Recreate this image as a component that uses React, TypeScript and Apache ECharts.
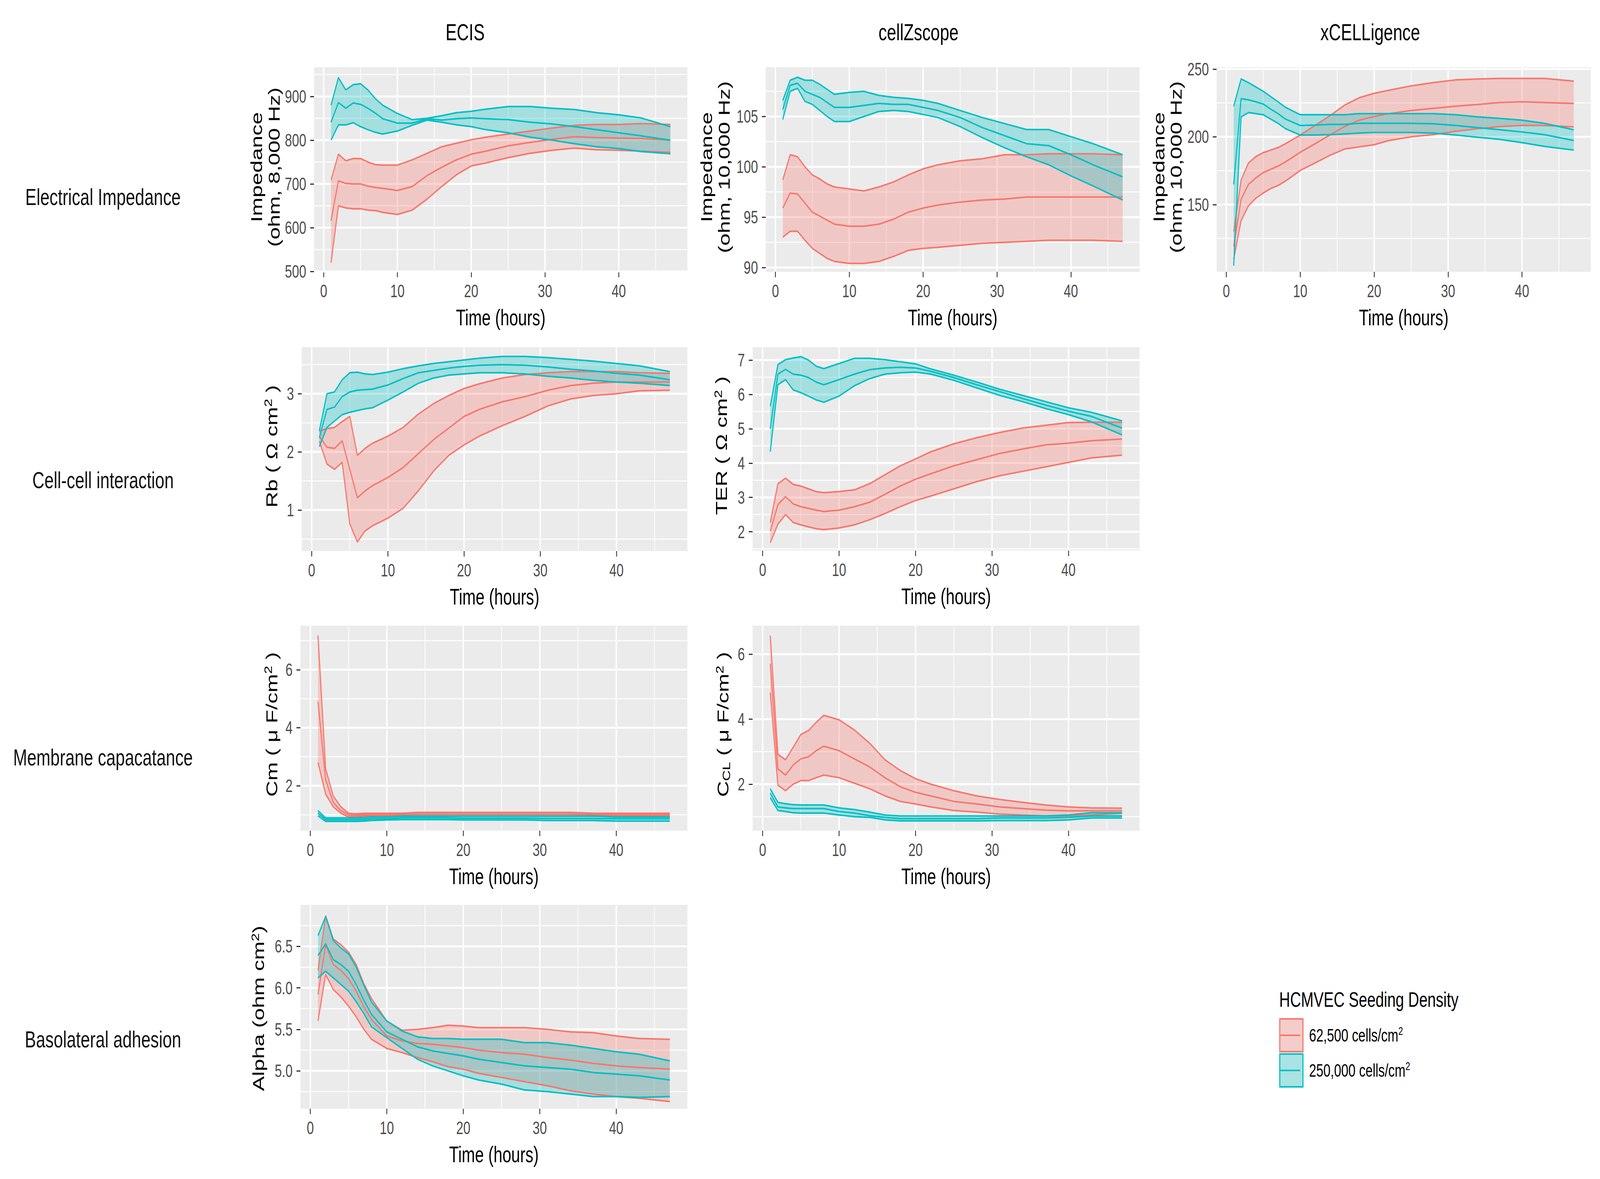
import React, { useEffect, useRef } from "react";
import * as echarts from "echarts";

const FONT = "'Liberation Sans', Arial, Helvetica, sans-serif";
const RED = "#F8766D";
const TEAL = "#00BFC4";
const RED_FILL = "rgba(248,118,109,0.3)";
const TEAL_FILL = "rgba(0,191,196,0.3)";
const REF_W = 5731;
const REF_H = 3019;

// ---------- data ----------
const TIME = [1, 2, 3, 4, 5, 6, 7, 8, 10, 12, 14, 16, 18, 20, 22, 25, 28, 31, 34, 37, 40, 43, 47];
const X_TICKS = [0, 10, 20, 30, 40];
const X_MINOR = [5, 15, 25, 35, 45];
const X_RANGE = [-1.3, 49.3];

const COLUMN_TITLES = ["ECIS", "cellZscope", "xCELLigence"];
const ROW_LABELS = ["Electrical Impedance", "Cell-cell interaction", "Membrane capacatance", "Basolateral adhesion"];
const X_TITLE = "Time (hours)";
const LEGEND_TITLE = "HCMVEC Seeding Density";
const GROUP_LABELS = ["62,500 cells/cm{sup|2}", "250,000 cells/cm{sup|2}"];
const Y_TITLES = [
  "Impedance\n(ohm, 8,000 Hz)",
  "Impedance\n(ohm, 10,000 Hz)",
  "Impedance\n(ohm, 10,000 Hz)",
  "Rb ( \u03A9 cm{sup|2} )",
  "TER ( \u03A9 cm{sup|2} )",
  "Cm ( \u03BC F/cm{sup|2} )",
  "C{sub|CL} ( \u03BC F/cm{sup|2} )",
  "Alpha (ohm cm{sup|2})",
];

// ECIS impedance
const ecisImpRedHi = [709, 768, 753, 758, 758, 750, 744, 743, 743, 755, 770, 785, 793, 801, 807, 814, 821, 828, 834, 836, 836, 838, 836];
const ecisImpRedMid = [616, 707, 701, 700, 700, 695, 692, 690, 685, 694, 719, 738, 755, 768, 775, 787, 795, 802, 808, 806, 805, 804, 800];
const ecisImpRedLo = [520, 650, 645, 643, 643, 640, 639, 635, 630, 640, 665, 694, 721, 741, 748, 760, 770, 777, 782, 778, 777, 775, 772];
const ecisImpTealHi = [880, 943, 915, 927, 929, 915, 895, 880, 861, 847, 850, 856, 863, 866, 871, 877, 877, 873, 870, 863, 858, 851, 831];
const ecisImpTealMid = [841, 886, 873, 885, 882, 873, 862, 849, 839, 839, 849, 846, 849, 851, 849, 847, 841, 837, 831, 824, 817, 810, 800];
const ecisImpTealLo = [800, 835, 835, 840, 831, 824, 818, 814, 821, 834, 846, 841, 835, 831, 824, 817, 807, 800, 792, 785, 781, 774, 769];

// cellZscope impedance
const czImpRedHi = [98.7, 101.2, 101.0, 100.0, 99.2, 98.8, 98.3, 98.0, 97.8, 97.6, 98.0, 98.5, 99.2, 99.8, 100.2, 100.6, 100.8, 101.2, 101.2, 101.3, 101.3, 101.3, 101.2];
const czImpRedMid = [95.9, 97.4, 97.3, 96.4, 95.5, 95.1, 94.7, 94.3, 94.1, 94.1, 94.3, 94.8, 95.5, 95.9, 96.2, 96.5, 96.7, 96.8, 97.0, 97.0, 97.0, 97.0, 97.0];
const czImpRedLo = [93.0, 93.6, 93.6, 92.7, 91.9, 91.4, 90.9, 90.6, 90.4, 90.4, 90.6, 91.1, 91.7, 91.9, 92.0, 92.2, 92.4, 92.5, 92.6, 92.7, 92.7, 92.7, 92.6];
const czImpTealHi = [106.6, 108.6, 108.9, 108.6, 108.6, 108.2, 107.7, 107.2, 107.4, 107.5, 107.1, 106.9, 106.8, 106.6, 106.3, 105.6, 104.9, 104.3, 103.7, 103.7, 103.0, 102.3, 101.2];
const czImpTealMid = [105.7, 108.1, 108.3, 107.5, 107.2, 106.9, 106.4, 105.9, 105.9, 106.1, 106.3, 106.2, 106.2, 105.9, 105.6, 104.9, 103.9, 103.1, 102.3, 102.1, 101.2, 100.2, 99.0];
const czImpTealLo = [104.7, 107.5, 107.8, 106.5, 106.2, 105.6, 105.0, 104.5, 104.5, 105.0, 105.5, 105.6, 105.5, 105.2, 104.9, 104.0, 102.9, 101.9, 101.0, 100.2, 99.1, 98.1, 96.7];

// xCELLigence impedance
const xcRedHi = [130.2, 168.1, 180.7, 185.5, 188.3, 190.2, 192.1, 194.9, 201.3, 208.4, 215.5, 223.4, 228.9, 232.1, 234.4, 237.6, 240.0, 242.0, 242.7, 243.1, 243.1, 243.1, 241.1];
const xcRedMid = [119.1, 153.9, 164.9, 169.7, 173.6, 176.0, 178.4, 181.5, 188.6, 194.9, 201.3, 207.6, 212.3, 215.0, 217.1, 219.4, 221.0, 222.6, 223.9, 225.3, 225.8, 225.3, 224.6];
const xcRedLo = [109.6, 138.1, 149.1, 154.7, 158.6, 161.8, 164.1, 167.3, 175.2, 180.7, 186.3, 191.0, 192.6, 194.2, 197.3, 200.0, 201.6, 204.1, 206.0, 207.6, 208.4, 208.4, 207.3];
const xcTealHi = [222.6, 242.7, 240.0, 236.8, 233.6, 229.7, 225.8, 221.8, 216.3, 216.3, 216.3, 216.3, 217.1, 217.1, 217.1, 217.1, 217.1, 216.3, 214.7, 213.6, 212.3, 210.0, 205.2];
const xcTealMid = [164.9, 228.1, 227.3, 225.8, 224.2, 220.5, 217.1, 213.1, 208.4, 208.7, 209.2, 209.2, 210.0, 210.0, 210.0, 210.0, 209.6, 208.4, 206.8, 205.2, 203.6, 201.6, 197.3];
const xcTealLo = [104.9, 214.7, 217.9, 217.1, 216.3, 213.1, 210.0, 206.0, 201.3, 201.3, 201.6, 202.1, 202.8, 203.2, 203.2, 203.2, 202.8, 201.3, 199.7, 198.1, 195.7, 193.0, 190.2];

// ECIS Rb
const rbRedHi = [2.36, 2.40, 2.42, 2.52, 2.61, 1.94, 2.06, 2.15, 2.27, 2.42, 2.65, 2.83, 2.97, 3.09, 3.17, 3.27, 3.33, 3.36, 3.38, 3.38, 3.38, 3.36, 3.35];
const rbRedMid = [2.27, 2.08, 2.06, 2.19, 1.70, 1.21, 1.33, 1.42, 1.56, 1.73, 1.97, 2.21, 2.41, 2.61, 2.73, 2.86, 2.95, 3.06, 3.14, 3.18, 3.20, 3.20, 3.20];
const rbRedLo = [2.18, 1.79, 1.70, 1.82, 0.76, 0.45, 0.64, 0.73, 0.86, 1.03, 1.33, 1.67, 1.94, 2.12, 2.27, 2.45, 2.61, 2.79, 2.91, 2.97, 3.00, 3.05, 3.06];
const rbTealHi = [2.36, 3.00, 3.03, 3.24, 3.36, 3.37, 3.34, 3.33, 3.37, 3.43, 3.48, 3.52, 3.55, 3.58, 3.61, 3.64, 3.64, 3.62, 3.59, 3.56, 3.52, 3.48, 3.38];
const rbTealMid = [2.24, 2.73, 2.77, 2.95, 3.03, 3.06, 3.07, 3.08, 3.15, 3.26, 3.36, 3.40, 3.44, 3.47, 3.49, 3.50, 3.49, 3.46, 3.42, 3.39, 3.35, 3.32, 3.24];
const rbTealLo = [2.09, 2.42, 2.53, 2.64, 2.68, 2.71, 2.74, 2.76, 2.89, 3.03, 3.18, 3.27, 3.32, 3.34, 3.36, 3.36, 3.34, 3.30, 3.27, 3.23, 3.20, 3.18, 3.14];

// cellZscope TER
const terRedHi = [2.27, 3.40, 3.56, 3.38, 3.33, 3.25, 3.17, 3.14, 3.17, 3.22, 3.40, 3.66, 3.92, 4.12, 4.33, 4.56, 4.74, 4.89, 5.02, 5.10, 5.18, 5.19, 5.19];
const terRedMid = [2.02, 2.79, 3.02, 2.81, 2.73, 2.68, 2.63, 2.59, 2.63, 2.73, 2.86, 3.09, 3.33, 3.53, 3.69, 3.92, 4.10, 4.28, 4.41, 4.53, 4.58, 4.65, 4.70];
const terRedLo = [1.68, 2.22, 2.50, 2.27, 2.20, 2.14, 2.09, 2.06, 2.11, 2.20, 2.35, 2.53, 2.73, 2.91, 3.04, 3.25, 3.46, 3.63, 3.76, 3.89, 4.02, 4.15, 4.23];
const terTealHi = [5.66, 6.87, 7.01, 7.06, 7.10, 7.00, 6.82, 6.75, 6.90, 7.05, 7.05, 7.01, 6.95, 6.89, 6.74, 6.56, 6.36, 6.15, 5.97, 5.79, 5.61, 5.48, 5.23];
const terTealMid = [5.00, 6.59, 6.73, 6.59, 6.56, 6.49, 6.36, 6.28, 6.43, 6.59, 6.72, 6.77, 6.79, 6.77, 6.67, 6.49, 6.28, 6.08, 5.88, 5.69, 5.51, 5.36, 5.02];
const terTealLo = [4.33, 6.28, 6.43, 6.13, 6.05, 5.95, 5.84, 5.77, 5.95, 6.25, 6.46, 6.59, 6.63, 6.65, 6.59, 6.41, 6.19, 5.97, 5.79, 5.59, 5.41, 5.20, 4.82];

// ECIS Cm
const cmRedHi = [7.18, 2.58, 1.64, 1.27, 1.05, 1.03, 1.05, 1.05, 1.05, 1.05, 1.08, 1.08, 1.08, 1.08, 1.08, 1.08, 1.08, 1.08, 1.08, 1.05, 1.05, 1.05, 1.05];
const cmRedMid = [4.90, 2.21, 1.42, 1.14, 0.99, 0.98, 1.00, 1.00, 1.00, 1.00, 1.02, 1.02, 1.02, 1.02, 1.02, 1.02, 1.02, 1.02, 1.02, 1.00, 1.00, 1.00, 1.00];
const cmRedLo = [2.80, 1.71, 1.27, 1.05, 0.92, 0.93, 0.95, 0.95, 0.95, 0.95, 0.96, 0.96, 0.96, 0.96, 0.96, 0.96, 0.96, 0.96, 0.96, 0.95, 0.95, 0.95, 0.95];
const cmTealHi = [1.14, 0.89, 0.89, 0.89, 0.89, 0.89, 0.90, 0.92, 0.92, 0.95, 0.95, 0.95, 0.95, 0.95, 0.95, 0.95, 0.95, 0.95, 0.95, 0.95, 0.92, 0.92, 0.92];
const cmTealMid = [1.05, 0.83, 0.83, 0.83, 0.83, 0.83, 0.84, 0.86, 0.86, 0.89, 0.89, 0.89, 0.89, 0.88, 0.88, 0.88, 0.88, 0.87, 0.87, 0.87, 0.86, 0.86, 0.86];
const cmTealLo = [0.96, 0.77, 0.77, 0.77, 0.77, 0.77, 0.78, 0.80, 0.82, 0.83, 0.83, 0.83, 0.83, 0.82, 0.82, 0.82, 0.82, 0.80, 0.80, 0.80, 0.78, 0.78, 0.78];

// cellZscope CCL
const cclRedHi = [6.57, 2.92, 2.75, 3.14, 3.53, 3.65, 3.90, 4.12, 3.98, 3.67, 3.26, 2.75, 2.42, 2.17, 2.00, 1.80, 1.64, 1.53, 1.44, 1.36, 1.30, 1.27, 1.26];
const cclRedMid = [5.71, 2.47, 2.28, 2.59, 2.78, 2.84, 3.03, 3.17, 3.03, 2.78, 2.53, 2.20, 1.92, 1.75, 1.64, 1.47, 1.39, 1.30, 1.25, 1.20, 1.18, 1.18, 1.18];
const cclRedLo = [4.82, 1.97, 1.80, 2.00, 2.11, 2.11, 2.20, 2.28, 2.20, 2.03, 1.86, 1.64, 1.47, 1.39, 1.30, 1.19, 1.14, 1.08, 1.05, 1.02, 1.02, 1.05, 1.11];
const cclTealHi = [1.86, 1.44, 1.40, 1.37, 1.36, 1.36, 1.36, 1.36, 1.27, 1.22, 1.14, 1.05, 1.02, 1.02, 1.02, 1.02, 1.02, 1.02, 1.02, 1.02, 1.05, 1.12, 1.12];
const cclTealMid = [1.72, 1.30, 1.27, 1.25, 1.25, 1.25, 1.25, 1.25, 1.16, 1.11, 1.03, 0.98, 0.94, 0.94, 0.94, 0.94, 0.94, 0.96, 0.96, 0.96, 0.98, 1.02, 1.02];
const cclTealLo = [1.58, 1.19, 1.16, 1.12, 1.11, 1.11, 1.11, 1.11, 1.05, 1.00, 0.98, 0.90, 0.87, 0.87, 0.87, 0.87, 0.87, 0.88, 0.88, 0.88, 0.90, 0.96, 0.96];

// ECIS Alpha
const alphaRedHi = [6.21, 6.87, 6.59, 6.52, 6.43, 6.28, 6.05, 5.87, 5.60, 5.49, 5.50, 5.52, 5.55, 5.54, 5.52, 5.52, 5.52, 5.50, 5.47, 5.46, 5.42, 5.39, 5.38];
const alphaRedMid = [5.92, 6.52, 6.28, 6.21, 6.11, 5.96, 5.77, 5.62, 5.42, 5.36, 5.33, 5.32, 5.30, 5.28, 5.25, 5.22, 5.20, 5.16, 5.13, 5.09, 5.06, 5.04, 5.02];
const alphaRedLo = [5.60, 6.16, 5.98, 5.89, 5.78, 5.65, 5.50, 5.38, 5.27, 5.22, 5.16, 5.11, 5.05, 5.02, 4.97, 4.92, 4.87, 4.82, 4.76, 4.72, 4.69, 4.67, 4.63];
const alphaTealHi = [6.63, 6.86, 6.57, 6.48, 6.41, 6.25, 6.03, 5.83, 5.60, 5.48, 5.41, 5.39, 5.39, 5.38, 5.38, 5.38, 5.34, 5.34, 5.31, 5.27, 5.23, 5.20, 5.12];
const alphaTealMid = [6.39, 6.53, 6.34, 6.28, 6.20, 6.04, 5.85, 5.68, 5.47, 5.38, 5.29, 5.24, 5.21, 5.18, 5.14, 5.10, 5.06, 5.04, 5.02, 4.98, 4.96, 4.94, 4.89];
const alphaTealLo = [6.12, 6.20, 6.12, 6.04, 5.96, 5.83, 5.69, 5.53, 5.40, 5.27, 5.14, 5.06, 5.00, 4.94, 4.89, 4.84, 4.77, 4.75, 4.72, 4.69, 4.69, 4.68, 4.69];

// per-panel scale data (axis ranges, ticks) and series references
const PANEL_DATA = [
  { yRange: [499, 967], yTicks: [500, 600, 700, 800, 900], yMinor: [550, 650, 750, 850, 950], dec: 0,
    red: [ecisImpRedLo, ecisImpRedMid, ecisImpRedHi], teal: [ecisImpTealLo, ecisImpTealMid, ecisImpTealHi] },
  { yRange: [89.57, 109.9], yTicks: [90, 95, 100, 105], yMinor: [92.5, 97.5, 102.5, 107.5], dec: 0,
    red: [czImpRedLo, czImpRedMid, czImpRedHi], teal: [czImpTealLo, czImpTealMid, czImpTealHi] },
  { yRange: [100.4, 251.4], yTicks: [150, 200, 250], yMinor: [125, 175, 225], dec: 0,
    red: [xcRedLo, xcRedMid, xcRedHi], teal: [xcTealLo, xcTealMid, xcTealHi] },
  { yRange: [0.295, 3.8], yTicks: [1, 2, 3], yMinor: [0.5, 1.5, 2.5, 3.5], dec: 0,
    red: [rbRedLo, rbRedMid, rbRedHi], teal: [rbTealLo, rbTealMid, rbTealHi] },
  { yRange: [1.45, 7.375], yTicks: [2, 3, 4, 5, 6, 7], yMinor: [1.5, 2.5, 3.5, 4.5, 5.5, 6.5], dec: 0,
    red: [terRedLo, terRedMid, terRedHi], teal: [terTealLo, terTealMid, terTealHi] },
  { yRange: [0.45, 7.52], yTicks: [2, 4, 6], yMinor: [1, 3, 5, 7], dec: 0,
    red: [cmRedLo, cmRedMid, cmRedHi], teal: [cmTealLo, cmTealMid, cmTealHi] },
  { yRange: [0.57, 6.88], yTicks: [2, 4, 6], yMinor: [1, 3, 5], dec: 0,
    red: [cclRedLo, cclRedMid, cclRedHi], teal: [cclTealLo, cclTealMid, cclTealHi] },
  { yRange: [4.544, 7.0], yTicks: [5.0, 5.5, 6.0, 6.5], yMinor: [4.75, 5.25, 5.75, 6.25, 6.75], dec: 1,
    red: [alphaRedLo, alphaRedMid, alphaRedHi], teal: [alphaTealLo, alphaTealMid, alphaTealHi] },
];

// ---------- layout (reference pixel coordinates) ----------
const PANEL_LAYOUT = [
  { left: 1125, top: 172, width: 1337, height: 524, ytx: 950, yty: 428 },
  { left: 2743, top: 172, width: 1339, height: 524, ytx: 2562, yty: 428 },
  { left: 4358, top: 172, width: 1340, height: 524, ytx: 4182, yty: 428 },
  { left: 1081, top: 889, width: 1381, height: 522, ytx: 973, yty: 1143 },
  { left: 2696, top: 889, width: 1386, height: 521, ytx: 2584, yty: 1141 },
  { left: 1076, top: 1602, width: 1386, height: 525, ytx: 973, yty: 1855 },
  { left: 2696, top: 1602, width: 1386, height: 525, ytx: 2590, yty: 1855 },
  { left: 1076, top: 2317, width: 1386, height: 522, ytx: 926, yty: 2582 },
];
const COLUMN_TITLE_X = [1666, 3290, 4908];
const COLUMN_TITLE_Y = 82;
const ROW_LABEL_X = 369;
const ROW_LABEL_Y = [504, 1229, 1939, 2661];
const LEGEND_X = 4582;
const LEGEND_TITLE_Y = 2560;
const LEGEND_KEY_Y = [2607, 2697];
const KEY_W = 87;
const KEY_H = 88;

function buildOption() {
  const grid: any[] = [];
  const xAxis: any[] = [];
  const yAxis: any[] = [];
  const series: any[] = [];
  const graphics: any[] = [];

  const textStyle = (text: string, size: number, fill: string, align: string, extra: any = {}) => ({
    text, fontSize: size, fontFamily: FONT, fill,
    align, verticalAlign: "middle", textAlign: align, textVerticalAlign: "middle",
    ...extra,
  });

  PANEL_LAYOUT.forEach((p, i) => {
    const d = PANEL_DATA[i];
    grid.push({
      left: p.left, top: p.top, width: p.width, height: p.height,
      show: true, backgroundColor: "#EBEBEB", borderWidth: 0, borderColor: "transparent",
      containLabel: false, outerBoundsMode: "none",
    });
    const tickStyle = { show: true, inside: false, length: 14, lineStyle: { color: "#333333", width: 3 } };
    xAxis.push({
      type: "value", gridIndex: i, min: X_RANGE[0], max: X_RANGE[1],
      axisLine: { show: false, onZero: false },
      splitLine: { show: false }, minorTick: { show: false }, minorSplitLine: { show: false },
      axisTick: { ...tickStyle, customValues: X_TICKS },
      axisLabel: { customValues: X_TICKS, fontSize: 46, fontFamily: FONT, color: "#4D4D4D", margin: 26 },
    });
    yAxis.push({
      type: "value", gridIndex: i, min: d.yRange[0], max: d.yRange[1],
      axisLine: { show: false, onZero: false },
      splitLine: { show: false }, minorTick: { show: false }, minorSplitLine: { show: false },
      axisTick: { ...tickStyle, customValues: d.yTicks },
      axisLabel: {
        customValues: d.yTicks, fontSize: 46, fontFamily: FONT, color: "#4D4D4D", margin: 28,
        formatter: (v: number) => Number(v).toFixed(d.dec),
      },
    });

    // grid lines (major + minor), placed through the axes' scales
    const gl: number[][] = [];
    X_TICKS.forEach((v) => gl.push([v, d.yRange[0], 0]));
    X_MINOR.forEach((v) => gl.push([v, d.yRange[0], 1]));
    d.yTicks.forEach((v) => gl.push([X_RANGE[0], v, 2]));
    d.yMinor.forEach((v) => gl.push([X_RANGE[0], v, 3]));
    series.push({
      type: "custom", coordinateSystem: "cartesian2d", xAxisIndex: i, yAxisIndex: i,
      silent: true, z: 1, animation: false, data: gl, encode: { x: 0, y: 1 },
      renderItem: (params: any, api: any) => {
        const a = api.value(0), b = api.value(1), kind = api.value(2);
        let p1, p2;
        if (kind < 2) { p1 = api.coord([a, d.yRange[0]]); p2 = api.coord([a, d.yRange[1]]); }
        else { p1 = api.coord([X_RANGE[0], b]); p2 = api.coord([X_RANGE[1], b]); }
        return {
          type: "line",
          shape: { x1: p1[0], y1: p1[1], x2: p2[0], y2: p2[1] },
          style: { stroke: "#FFFFFF", lineWidth: kind % 2 === 0 ? 5 : 2.5 },
        };
      },
    });

    const groups: [number[][], string, string][] = [
      [d.red, RED, RED_FILL],
      [d.teal, TEAL, TEAL_FILL],
    ];
    groups.forEach(([arrs, color, fill]) => {
      const [lo, mid, hi] = arrs;
      series.push({
        type: "custom", coordinateSystem: "cartesian2d", xAxisIndex: i, yAxisIndex: i,
        silent: true, z: 2, animation: false,
        data: TIME.map((t, k) => [t, lo[k], hi[k]]),
        encode: { x: 0, y: [1, 2] },
        renderItem: (params: any, api: any) => {
          if (params.dataIndexInside !== 0) return null;
          const up: number[][] = [];
          const dn: number[][] = [];
          for (let k = 0; k < TIME.length; k++) {
            const t = api.value(0, k);
            up.push(api.coord([t, api.value(2, k)]));
            dn.push(api.coord([t, api.value(1, k)]));
          }
          return { type: "polygon", shape: { points: up.concat(dn.reverse()) }, style: { fill } };
        },
      });
      [lo, hi, mid].forEach((arr) => {
        series.push({
          type: "line", xAxisIndex: i, yAxisIndex: i, z: 2,
          data: TIME.map((t, k) => [t, arr[k]]),
          showSymbol: false, symbol: "none", silent: true, animation: false,
          emphasis: { disabled: true },
          lineStyle: { color, width: 4 }, itemStyle: { color },
        });
      });
    });

    // axis titles
    graphics.push({
      type: "text", x: p.left + p.width / 2, y: p.top + p.height + 117, silent: true, z: 100,
      style: textStyle(X_TITLE, 57, "#000000", "center"),
    });
    graphics.push({
      type: "text", x: p.ytx, y: p.yty, rotation: Math.PI / 2, silent: true, z: 100,
      style: textStyle(Y_TITLES[i], 57, "#000000", "center", {
        lineHeight: 62,
        rich: {
          sup: { fontSize: 38, fontFamily: FONT, fill: "#000000", verticalAlign: "top" },
          sub: { fontSize: 38, fontFamily: FONT, fill: "#000000", verticalAlign: "bottom" },
        },
      }),
    });
  });

  COLUMN_TITLES.forEach((t, c) => {
    graphics.push({
      type: "text", x: COLUMN_TITLE_X[c], y: COLUMN_TITLE_Y, silent: true, z: 100,
      style: textStyle(t, 60, "#000000", "center"),
    });
  });
  ROW_LABELS.forEach((t, r) => {
    graphics.push({
      type: "text", x: ROW_LABEL_X, y: ROW_LABEL_Y[r], silent: true, z: 100,
      style: textStyle(t, 60, "#111111", "center"),
    });
  });

  // legend
  graphics.push({
    type: "text", x: LEGEND_X, y: LEGEND_TITLE_Y, silent: true, z: 100,
    style: textStyle(LEGEND_TITLE, 54, "#000000", "left"),
  });
  const keyColors = [[RED, RED_FILL], [TEAL, TEAL_FILL]];
  GROUP_LABELS.forEach((lab, g) => {
    const ky = LEGEND_KEY_Y[g];
    const [col, fill] = keyColors[g];
    graphics.push({ type: "rect", silent: true, z: 100, shape: { x: LEGEND_X, y: ky, width: KEY_W, height: KEY_H }, style: { fill: "#F2F2F2" } });
    graphics.push({ type: "rect", silent: true, z: 101, shape: { x: LEGEND_X + 2, y: ky + 2, width: KEY_W - 4, height: KEY_H - 4 }, style: { fill, stroke: col, lineWidth: 4 } });
    graphics.push({ type: "line", silent: true, z: 102, shape: { x1: LEGEND_X + 4, y1: ky + KEY_H / 2, x2: LEGEND_X + KEY_W - 12, y2: ky + KEY_H / 2 }, style: { stroke: col, lineWidth: 4 } });
    graphics.push({
      type: "text", x: LEGEND_X + 107, y: ky + KEY_H / 2, silent: true, z: 100,
      style: textStyle(lab, 46, "#000000", "left", {
        lineHeight: 52,
        rich: { sup: { fontSize: 30, fontFamily: FONT, fill: "#000000", verticalAlign: "top" } },
      }),
    });
  });

  return {
    animation: false,
    backgroundColor: "#FFFFFF",
    textStyle: { fontFamily: FONT },
    grid, xAxis, yAxis, series,
    graphic: { elements: graphics },
  };
}

export default function App() {
  const outerRef = useRef<HTMLDivElement>(null);
  const ref = useRef<HTMLDivElement>(null);
  useEffect(() => {
    if (!ref.current || !outerRef.current) return;
    // The chart is laid out in the reference's own pixel space; if the window is
    // narrower than the reference, the whole figure is fitted to its width.
    let W = window.innerWidth || document.documentElement.clientWidth || REF_W;
    if (!(W > 200) || W > REF_W) W = REF_W;
    const sx = W / REF_W;
    outerRef.current.style.width = W + "px";
    ref.current.style.transform = sx < 0.999 ? `scale(${sx}, 1)` : "none";
    const chart = echarts.init(ref.current, null, { renderer: "svg", width: REF_W, height: REF_H });
    chart.setOption(buildOption() as any);
    return () => chart.dispose();
  }, []);
  return (
    <div
      ref={outerRef}
      style={{ position: "absolute", left: 0, top: 0, width: REF_W, height: REF_H, overflow: "hidden", background: "#FFFFFF" }}
    >
      <div
        ref={ref}
        style={{ position: "absolute", left: 0, top: 0, width: REF_W, height: REF_H, transformOrigin: "0 0" }}
      />
    </div>
  );
}
